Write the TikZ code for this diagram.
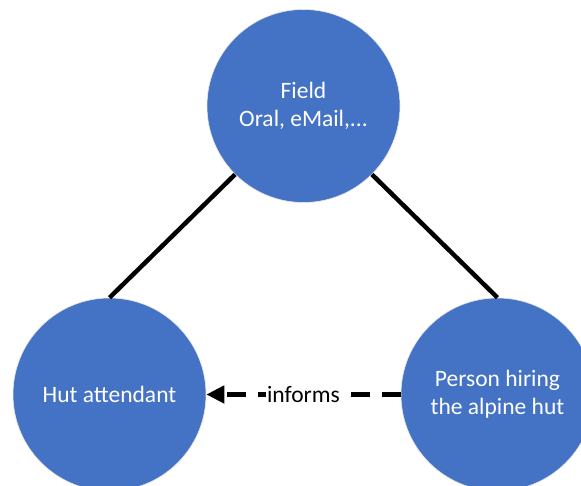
\documentclass[tikz,border=0pt]{standalone}
\usepackage{fontspec}
\setmainfont{Carlito}
\usetikzlibrary{arrows.meta}
\definecolor{blueA}{HTML}{4472C4}
\begin{document}
\begin{tikzpicture}[x=1pt,y=1pt,
  party/.style={circle,fill=blueA,draw=white!80!gray,line width=0.6pt,minimum size=193pt,inner sep=0pt,
    text=white,align=center,font=\fontsize{23.5}{28.2}\selectfont},
  link/.style={line width=4.5pt,black},
  infoarrow/.style={line width=4.5pt,black,dash pattern=on 19pt off 12pt,-{Triangle[length=18pt,width=17pt]}}]
\useasboundingbox (0,0) rectangle (581,486);
\node[party] (field) at (303.5,380) {Field\\Oral, eMail,{.}{.}{.}};
\node[party] (hut) at (109.5,91.5) {Hut attendant};
\node[party] (person) at (497.5,91.5) {Person hiring\\the alpine hut};
\draw[link] (field.south west) -- (hut.north);
\draw[link] (field.south east) -- (person.north);
\draw[infoarrow] (person.west) -- (hut.east)
  node[midway,fill=white,inner sep=1.5pt,text=black,font=\fontsize{23.5}{28.2}\selectfont] (lbl) {informs};
\end{tikzpicture}
\end{document}
